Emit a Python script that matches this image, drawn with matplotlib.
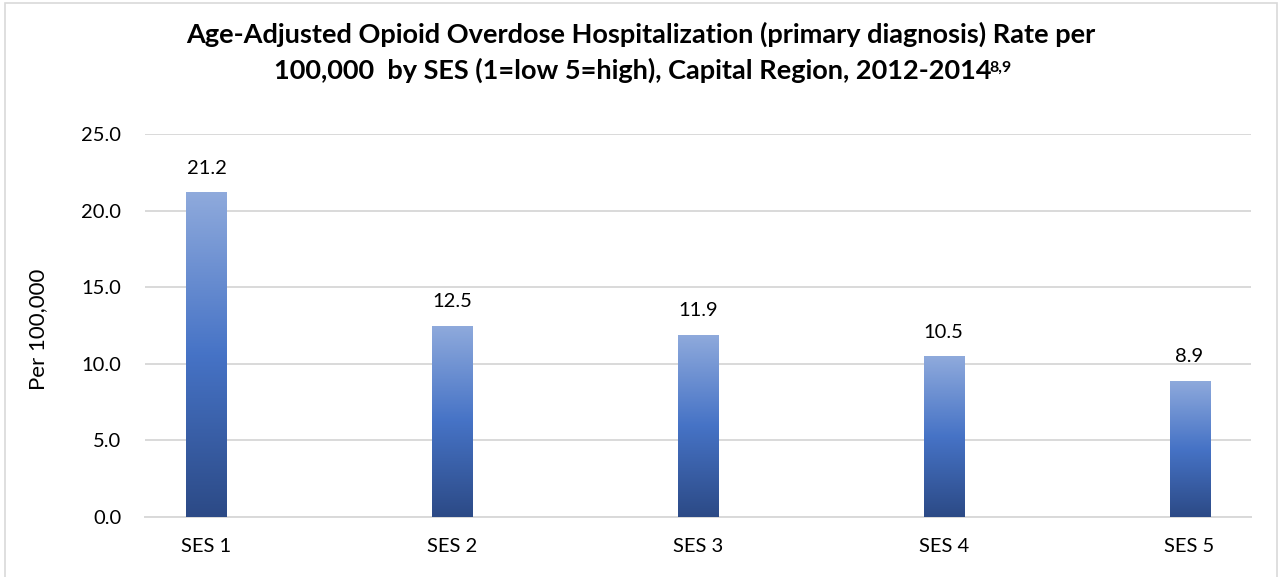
import numpy as np
import matplotlib.pyplot as plt
from matplotlib.colors import LinearSegmentedColormap
from matplotlib.patches import Rectangle

categories = ['SES 1', 'SES 2', 'SES 3', 'SES 4', 'SES 5']
rates = [21.2, 12.5, 11.9, 10.5, 8.9]
yticks = [0, 5, 10, 15, 20, 25]

plt.rcParams['font.family'] = ['Lato', 'DejaVu Sans']

fig = plt.figure(figsize=(12.81, 5.77), dpi=100)
ax = fig.add_axes([145/1281, 1 - 517/577, (1251 - 145)/1281, (517 - 134)/577])

# gradient like the Excel fill: light at top, dark at bottom
grad = LinearSegmentedColormap.from_list('bars', ['#2c4a86', '#4673c6', '#8faadc'])
x = np.arange(len(categories))
width = 0.163
bars = ax.bar(x, rates, width=width, color='none', edgecolor='none', zorder=3)
gy = np.linspace(0, 1, 256).reshape(-1, 1)
for b in bars:
    x0, h = b.get_x(), b.get_height()
    im = ax.imshow(gy, cmap=grad, origin='lower', aspect='auto',
                   extent=[x0, x0 + b.get_width(), 0, h], zorder=3)
    im.set_clip_path(b)

for xi, v in zip(x, rates):
    ax.annotate(f'{v:.1f}', (xi, v), xytext=(0, 11), textcoords='offset points',
                ha='center', va='bottom', fontsize=14.5)

ax.set_xlim(-0.25, len(categories) - 0.75)
ax.set_ylim(0, 25)
ax.set_yticks(yticks)
ax.set_yticklabels([f'{t:.1f}' for t in yticks])
ax.set_xticks(x)
ax.set_xticklabels(categories)
ax.tick_params(axis='both', length=0, labelsize=14.5)
ax.tick_params(axis='y', pad=17)
ax.tick_params(axis='x', pad=15)
ax.yaxis.grid(True, color='#d9d9d9', linewidth=1.4, zorder=0)
ax.set_axisbelow(True)
for s in ['top', 'right', 'left']:
    ax.spines[s].set_visible(False)
ax.spines['bottom'].set_color('#d9d9d9')
ax.spines['bottom'].set_linewidth(1.4)
ax.set_ylabel('Per 100,000', fontsize=16)
ax.yaxis.set_label_coords(-97/1106, 0.49)

fig.text(0.5, 1 - 34/577, 'Age-Adjusted Opioid Overdose Hospitalization (primary diagnosis) Rate per',
         ha='center', va='center', fontsize=19.5, fontweight='bold')
line2 = fig.text(0.494, 1 - 70/577, '100,000  by SES (1=low 5=high), Capital Region, 2012-2014',
                 ha='center', va='center', fontsize=19.5, fontweight='bold')
fig.canvas.draw()
bb = line2.get_window_extent()
fig.text((bb.x1 - 2) / 1281, (bb.y1 - 3) / 577, '8,9', ha='left', va='top',
         fontsize=11.5, fontweight='bold')

fig.patches.append(Rectangle((5/1281, -0.05), 1272/1281, 1.05 - 3/577, transform=fig.transFigure,
                             fill=False, edgecolor='#d9d9d9', linewidth=1.2))

fig.savefig('out.png', dpi=100)
